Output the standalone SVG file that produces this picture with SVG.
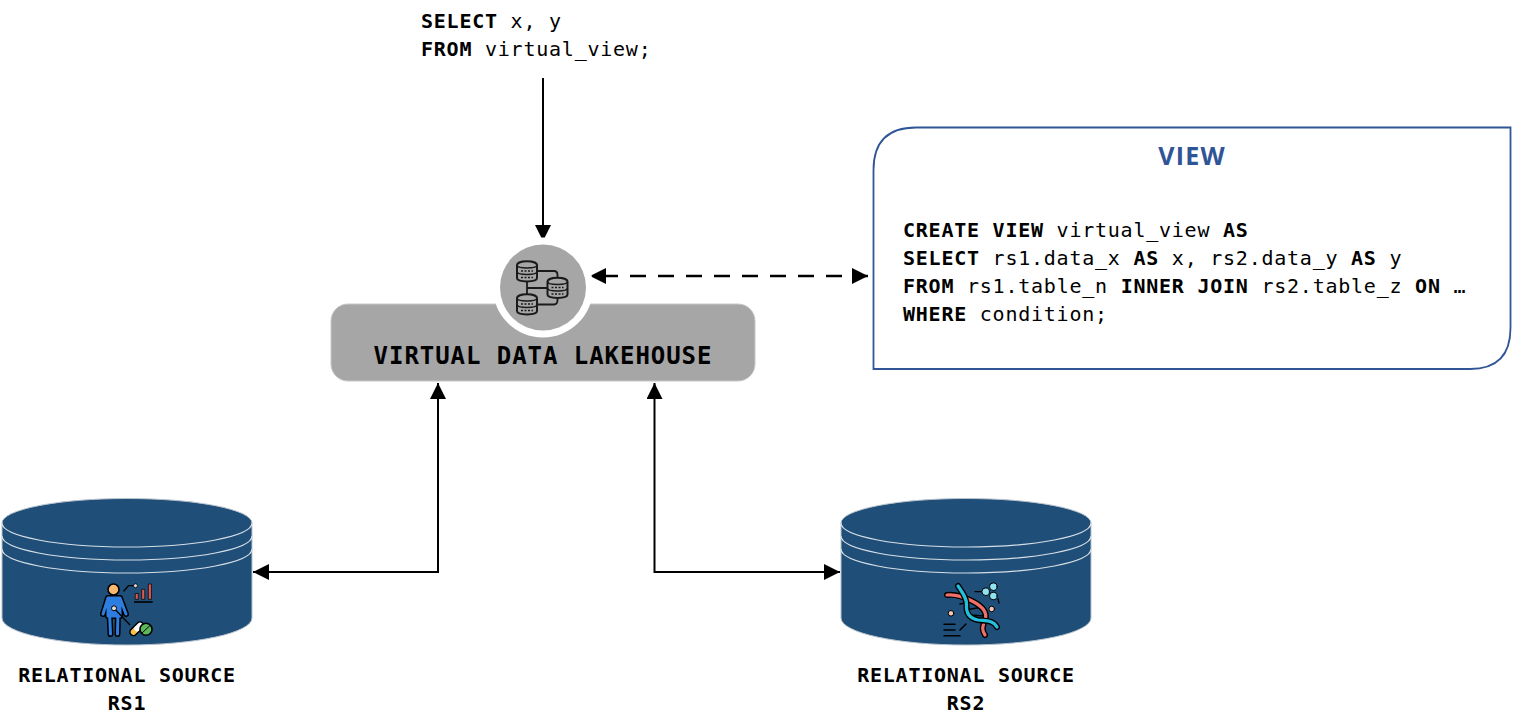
<svg xmlns="http://www.w3.org/2000/svg" width="1513" height="728" viewBox="0 0 1513 728">
<style>
text{font-family:"DejaVu Sans Mono","Liberation Mono",monospace;fill:#000}
.c{font-size:20px;letter-spacing:.76px}
.b{font-weight:700}
.lbl{font-size:20px;letter-spacing:.76px;font-weight:700;text-anchor:middle}
.ln{fill:none;stroke:#000;stroke-width:2}
.cyl{fill:#1f4e79;stroke:#b9c3cc;stroke-width:1}
.ring{fill:none;stroke:#d6dee5;stroke-width:1.2}
.k{stroke:#000;stroke-width:1.6;stroke-linecap:round;stroke-linejoin:round}
.db{fill:none;stroke:#1a1a1a;stroke-width:1.500}
</style>
<defs>
<marker id="ah" markerUnits="userSpaceOnUse" markerWidth="18" markerHeight="16" refX="16" refY="8" orient="auto-start-reverse"><path d="M0 0L16 8L0 16Z" fill="#000"/></marker>
<g id="dbi"><path d="M-10 -6.500C-10-11.500 10-11.500 10-6.500V6.500C10 11 -10 11 -10 6.500Z" fill="#a6a6a6" stroke="#1a1a1a" stroke-width="2"/><path class="db" d="M-10-6.500C-10-2.500 10-2.500 10-6.500M-10 0C-10 4 10 4 10 0"/><path class="db" stroke-dasharray="2 1.500" d="M-6 -.5H6M-6 6H6"/></g>
</defs>
<g id="connectors">
<path class="ln" d="M543 78V241" marker-end="url(#ah)"/>
<path class="ln" style="stroke-width:2.600" stroke-dasharray="16 12" stroke-dashoffset="16" d="M590 276H868" marker-start="url(#ah)" marker-end="url(#ah)"/>
<path class="ln" d="M253 572H438V383" marker-start="url(#ah)" marker-end="url(#ah)"/>
<path class="ln" d="M840 572H654.500V383" marker-start="url(#ah)" marker-end="url(#ah)"/>
</g>
<g id="query"><text class="c" x="421" y="28"><tspan class="b">SELECT</tspan> x, y</text><text class="c" x="421" y="56"><tspan class="b">FROM</tspan> virtual_view;</text></g>
<g id="view">
<path d="M873.500 369V170Q873.500 127.500 916 127.500H1510.500V328Q1510.500 369 1470 369Z" fill="#fff" stroke="#2f5597" stroke-width="1.800"/>
<text x="1192" y="165" text-anchor="middle" style="font-family:'Open Sans',sans-serif;font-size:25px;letter-spacing:1.2px;font-weight:700;fill:#2f5597">VIEW</text>
<text class="c" x="903" y="237"><tspan class="b">CREATE VIEW</tspan> virtual_view <tspan class="b">AS</tspan></text>
<text class="c" x="903" y="265"><tspan class="b">SELECT</tspan> rs1.data_x <tspan class="b">AS</tspan> x, rs2.data_y <tspan class="b">AS</tspan> y</text>
<text class="c" x="903" y="293"><tspan class="b">FROM</tspan> rs1.table_n <tspan class="b">INNER JOIN</tspan> rs2.table_z <tspan class="b">ON</tspan> …</text>
<text class="c" x="903" y="321"><tspan class="b">WHERE</tspan> condition;</text>
</g>
<g id="lakehouse">
<rect x="331" y="304" width="424" height="77" rx="17" fill="#a6a6a6" stroke="#c8c8c8" stroke-width="1"/>
<circle cx="543" cy="287.500" r="50" fill="#fff"/>
<circle cx="543" cy="287.500" r="43" fill="#a6a6a6"/>
<path d="M537 271H554Q557.500 271 557.500 275V280M527 280V296M527 288H548M557.500 296V300Q557.500 304.500 554 304.500H537" fill="none" stroke="#1a1a1a" stroke-width="1.800"/>
<use href="#dbi" x="527" y="271.500"/><use href="#dbi" x="557.500" y="288"/><use href="#dbi" x="527" y="304.500"/>
<text x="543" y="364" text-anchor="middle" style="font-size:24px;font-weight:700;letter-spacing:.95px">VIRTUAL DATA LAKEHOUSE</text>
</g>
<g id="rs1">
<path class="cyl" d="M2 523A125 24.500 0 0 1 252 523V618A125 27 0 0 1 2 618Z"/>
<path class="ring" d="M2 523A125 24 0 0 0 252 523M2 536A125 24 0 0 0 252 536M2 549A125 24 0 0 0 252 549"/>
<g id="rs1-icon">
<path fill="none" stroke="#000" stroke-width="6" stroke-linecap="round" stroke-linejoin="round" d="M108 598L103 614M120 598L126 614M109.500 612L110.500 634M118 612L117.500 634M108 598H120V616H108Z"/>
<path fill="#2e7de0" stroke="#2e7de0" stroke-width="3" stroke-linecap="round" stroke-linejoin="round" d="M108 598L103 614M120 598L126 614M109.500 612L110.500 634M118 612L117.500 634M108 598H120V616H108Z"/>
<circle cx="113.500" cy="589.500" r="5.500" fill="#f9b872" class="k"/>
<path d="M123.500 591.500L128.500 585.700H135" fill="none" stroke="#000" stroke-width="1.300"/><circle cx="135.500" cy="585.700" r="2" fill="#ddd" stroke="#000" stroke-width=".8"/>
<path d="M134 602H152.700" stroke="#000" stroke-width="1.600"/>
<path fill="#e05a55" stroke="#111" stroke-width=".9" d="M135.200 593.500H138.300V599.300H135.200ZM141.700 589.300H144.800V599.300H141.700ZM148.300 584H151.400V599.300H148.300Z"/>
<path d="M114 608.300L130 625" stroke="#000" stroke-width="1.300"/><circle cx="114" cy="608.300" r="2.500" fill="#ddd" stroke="#000"/>
<path d="M133.500 632L140 625.500" stroke="#000" stroke-width="8.500" stroke-linecap="round"/>
<path d="M133.500 632L136.500 629" stroke="#f6c24f" stroke-width="5.500" stroke-linecap="round"/>
<path d="M137 628.500L140 625.500" stroke="#fff" stroke-width="5.500" stroke-linecap="round"/>
<circle cx="146" cy="629.300" r="6" fill="#5cb85c" class="k"/>
<path d="M142 633L150 625.500" stroke="#000" stroke-width="1"/>
</g>
</g>
<g id="rs2">
<path class="cyl" d="M841 523A125 24.500 0 0 1 1091 523V618A125 27 0 0 1 841 618Z"/>
<path class="ring" d="M841 523A125 24 0 0 0 1091 523M841 536A125 24 0 0 0 1091 536M841 549A125 24 0 0 0 1091 549"/>
<g id="rs2-icon" fill="none" stroke-linecap="round" stroke-linejoin="round">
<path d="M960 604L975 601M965 610L983 607M971 615L983 616" stroke="#000" stroke-width="1.500"/>
<path d="M947 595C956 594 964 597 972 601C982 606 988 612 985 620C983 626 981 629 985 635" stroke="#000" stroke-width="6"/>
<path d="M947 595C956 594 964 597 972 601C982 606 988 612 985 620C983 626 981 629 985 635" stroke="#f0706a" stroke-width="3.200"/>
<path d="M958 586C962 592 967 598 966.500 605C966 612 968 618 978 620C986 621 993 620 997 627" stroke="#000" stroke-width="6"/>
<path d="M958 586C962 592 967 598 966.500 605C966 612 968 618 978 620C986 621 993 620 997 627" stroke="#23bfdc" stroke-width="3.200"/>
<path d="M975 591.700H982M998 599L999 603" stroke="#000" stroke-width="1.300"/>
<circle cx="985.700" cy="591.700" r="3.800" fill="#8fe3ee" stroke="#000"/><circle cx="993.300" cy="586.700" r="3.800" fill="#8fe3ee" stroke="#000"/><circle cx="993.300" cy="596" r="3.800" fill="#8fe3ee" stroke="#000"/>
<circle cx="951" cy="613.300" r="2.800" fill="#f7c5b5" stroke="#000"/><circle cx="991.700" cy="609" r="2.800" fill="#f7c5b5" stroke="#000"/>
<path d="M944 624.300H955M944 630H955M944 635.700H960M960 630L966 624" stroke="#000" stroke-width="1.500"/>
</g>
</g>
<g id="label-rs1"><text class="lbl" x="127" y="682">RELATIONAL SOURCE</text><text class="lbl" x="127" y="710">RS1</text></g>
<g id="label-rs2"><text class="lbl" x="966" y="682">RELATIONAL SOURCE</text><text class="lbl" x="966" y="710">RS2</text></g>
</svg>
